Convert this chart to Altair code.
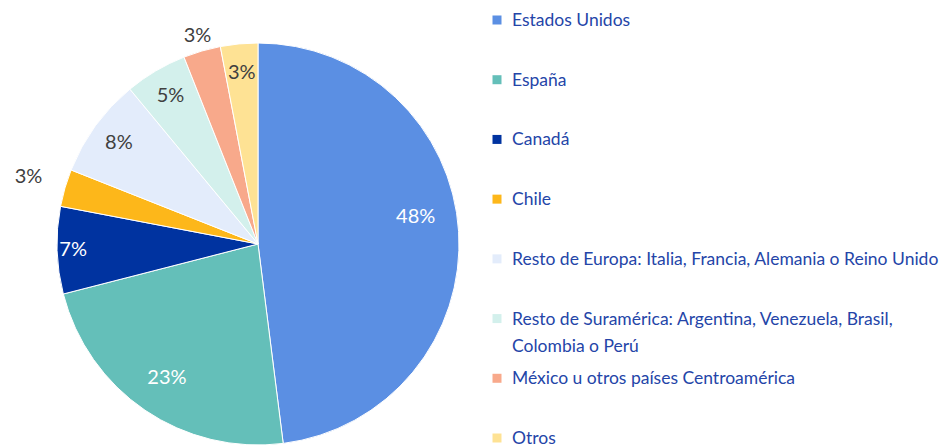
import altair as alt
import pandas as pd

categories = [
    "Estados Unidos",
    "España",
    "Canadá",
    "Chile",
    "Resto de Europa: Italia, Francia, Alemania o Reino Unido",
    "Resto de Suramérica: Argentina, Venezuela, Brasil,\nColombia o Perú",
    "México u otros países Centroamérica",
    "Otros",
]
values = [48, 23, 7, 3, 8, 5, 3, 3]
colors = ["#5B8FE3", "#64BFB9", "#0033A0", "#FDB71A", "#E3ECFB", "#D3F0EC", "#F8A98B", "#FEE294"]

df = pd.DataFrame({
    "cat": categories,
    "value": values,
    "idx": list(range(len(categories))),
    "label": [f"{v}%" for v in values],
})

FONT = "Lato"
CX, CY = 250, 236

color_scale = alt.Scale(domain=categories, range=colors)
theta = alt.Theta("value:Q", stack=True)
order = alt.Order("idx:Q", sort="ascending")

base = alt.Chart(df)

pie = base.mark_arc(outerRadius=201, stroke="white", strokeWidth=1).encode(
    theta=theta,
    order=order,
    color=alt.Color("cat:N", scale=color_scale, legend=None),
    x=alt.value(CX),
    y=alt.value(CY),
)


def in_list(lst):
    items = ",".join("'" + c.replace("\n", "\\n") + "'" for c in lst)
    return f"indexof([{items}], datum.cat) >= 0"


def pie_label(cats, radius, color, dy=0):
    return base.mark_text(radius=radius, dy=dy, font=FONT, fontSize=20, baseline="middle").encode(
        theta=theta,
        order=order,
        text=alt.condition(in_list(cats), alt.Text("label:N"), alt.value("")),
        color=alt.value(color),
        x=alt.value(CX),
        y=alt.value(CY),
    )


lbl_us = pie_label(["Estados Unidos"], 158, "white", dy=-17)
lbl_es = pie_label(["España"], 162, "white")
lbl_ca = pie_label(["Canadá"], 185, "white")
lbl_inner = pie_label([categories[4], categories[5], "Otros"], 172, "#404040")
lbl_mx = pie_label(["México u otros países Centroamérica"], 217, "#404040")
lbl_cl = pie_label(["Chile"], 239, "#404040")

legend_y = alt.Y("cat:N", sort=categories, axis=None,
                 scale=alt.Scale(type="point", range=[12, 430], padding=0))

legend_sq = base.mark_square(size=81, opacity=1).encode(
    x=alt.value(489),
    y=legend_y,
    color=alt.Color("cat:N", scale=color_scale, legend=None),
)

legend_txt = base.mark_text(align="left", baseline="alphabetic", dy=6, font=FONT,
                            fontSize=17.5, lineHeight=27, lineBreak="\n", color="#2445A8").encode(
    x=alt.value(504),
    y=legend_y,
    text="cat:N",
)

chart = alt.layer(pie, lbl_us, lbl_es, lbl_ca, lbl_inner, lbl_mx, lbl_cl, legend_sq, legend_txt).properties(
    width=933,
    height=439,
    padding=0,
    autosize=alt.AutoSizeParams(type="none"),
).configure_view(stroke=None)

chart.save("out.html", embed_options={"renderer": "svg", "actions": False})
